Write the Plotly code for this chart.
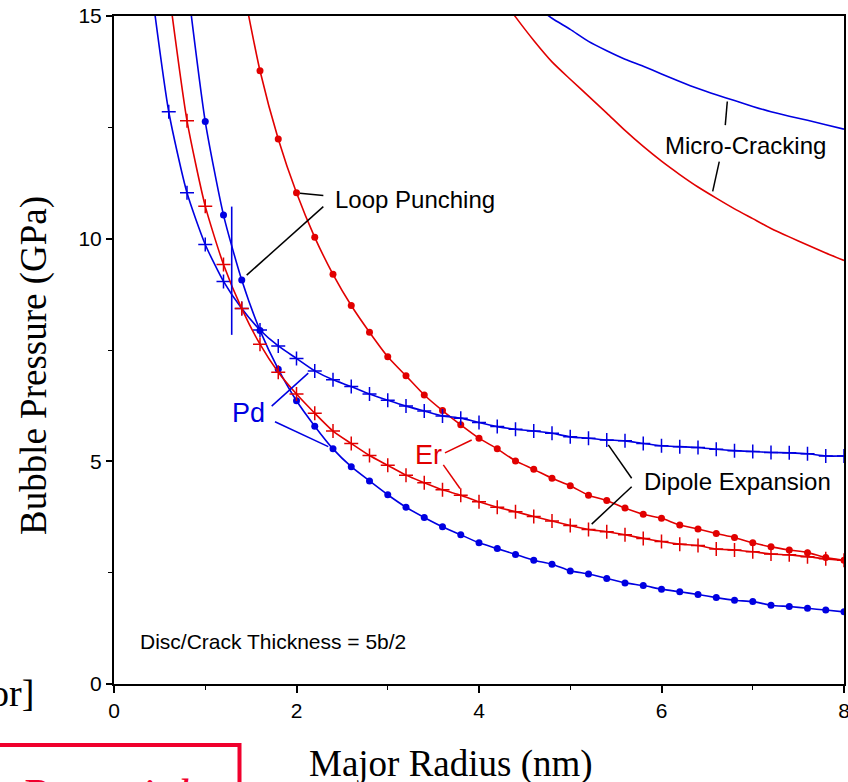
import plotly.graph_objects as go

# ---------------- data ----------------
pd_dipole_x = [0.4, 0.6, 0.8, 1.0, 1.2, 1.4, 1.6, 1.8, 2.0, 2.2, 2.4, 2.6, 2.8, 3.0, 3.2, 3.4, 3.6, 3.8, 4.0,
               4.2, 4.4, 4.6, 4.8, 5.0, 5.2, 5.4, 5.6, 5.8, 6.0, 6.2, 6.4, 6.6, 6.8, 7.0, 7.2, 7.4, 7.6, 7.8, 8.0]
pd_dipole_y = [15.8, 12.85, 11.03, 9.87, 9.04, 8.43, 7.95, 7.59, 7.31, 7.03, 6.83, 6.68, 6.51, 6.37, 6.24, 6.13,
               6.02, 5.97, 5.87, 5.78, 5.72, 5.68, 5.63, 5.55, 5.52, 5.48, 5.46, 5.40, 5.35, 5.33, 5.31, 5.27,
               5.24, 5.22, 5.20, 5.19, 5.17, 5.12, 5.12]

er_dipole_x = [0.6, 0.8, 1.0, 1.2, 1.4, 1.6, 1.8, 2.0, 2.2, 2.4, 2.6, 2.8, 3.0, 3.2, 3.4, 3.6, 3.8, 4.0,
               4.2, 4.4, 4.6, 4.8, 5.0, 5.2, 5.4, 5.6, 5.8, 6.0, 6.2, 6.4, 6.6, 6.8, 7.0, 7.2, 7.4, 7.6, 7.8, 8.0]
er_dipole_y = [15.6, 12.65, 10.73, 9.42, 8.43, 7.63, 7.00, 6.51, 6.08, 5.68, 5.40, 5.13, 4.91, 4.69, 4.52, 4.36,
               4.24, 4.09, 3.97, 3.87, 3.76, 3.66, 3.56, 3.47, 3.42, 3.35, 3.27, 3.20, 3.14, 3.11, 3.03, 3.01,
               2.97, 2.92, 2.90, 2.86, 2.81, 2.78]

pd_loop_x = [0.8, 1.0, 1.2, 1.4, 1.6, 1.8, 2.0, 2.2, 2.4, 2.6, 2.8, 3.0, 3.2, 3.4, 3.6, 3.8, 4.0,
             4.2, 4.4, 4.6, 4.8, 5.0, 5.2, 5.4, 5.6, 5.8, 6.0, 6.2, 6.4, 6.6, 6.8, 7.0, 7.2, 7.4, 7.6, 7.8, 8.0]
pd_loop_y = [15.8, 12.63, 10.53, 9.07, 7.94, 7.07, 6.36, 5.79, 5.28, 4.88, 4.56, 4.25, 3.97, 3.74, 3.53, 3.35,
             3.17, 3.04, 2.91, 2.78, 2.69, 2.54, 2.47, 2.37, 2.27, 2.21, 2.13, 2.07, 2.01, 1.94, 1.88, 1.85,
             1.77, 1.74, 1.70, 1.66, 1.62]

er_loop_x = [1.4, 1.6, 1.8, 2.0, 2.2, 2.4, 2.6, 2.8, 3.0, 3.2, 3.4, 3.6, 3.8, 4.0,
             4.2, 4.4, 4.6, 4.8, 5.0, 5.2, 5.4, 5.6, 5.8, 6.0, 6.2, 6.4, 6.6, 6.8, 7.0, 7.2, 7.4, 7.6, 7.8, 8.0]
er_loop_y = [15.8, 13.77, 12.24, 11.03, 10.03, 9.20, 8.50, 7.90, 7.35, 6.92, 6.49, 6.14, 5.82, 5.52, 5.28,
             5.01, 4.82, 4.62, 4.45, 4.24, 4.12, 3.95, 3.81, 3.72, 3.57, 3.48, 3.38, 3.29, 3.17, 3.08, 3.01,
             2.95, 2.84, 2.78]

pd_crack_x = [4.6, 4.8, 5.0, 5.2, 5.4, 5.6, 5.8, 6.0, 6.2, 6.4, 6.6, 6.8, 7.0, 7.2, 7.4, 7.6, 7.8, 8.0]
pd_crack_y = [15.25, 14.95, 14.70, 14.43, 14.22, 14.03, 13.87, 13.70, 13.53, 13.37, 13.23, 13.10, 12.97,
              12.85, 12.75, 12.66, 12.56, 12.46]

er_crack_x = [4.2, 4.4, 4.6, 4.8, 5.0, 5.2, 5.4, 5.6, 5.8, 6.0, 6.2, 6.4, 6.6, 6.8, 7.0, 7.2, 7.4, 7.6, 7.8, 8.0]
er_crack_y = [15.55, 14.98, 14.45, 13.97, 13.58, 13.20, 12.82, 12.43, 12.07, 11.74, 11.44, 11.16, 10.91,
              10.67, 10.45, 10.23, 10.04, 9.86, 9.68, 9.51]

pd_marker_x = [1.29, 1.29]
pd_marker_y = [7.84, 10.72]

x_ticks = [0, 2, 4, 6, 8]
y_ticks = [0, 5, 10, 15]

BLUE = "rgb(0,0,225)"
RED = "rgb(225,0,0)"

fig = go.Figure()

def add(x, y, color, symbol, size, mlw=0):
    fig.add_trace(go.Scatter(
        x=x, y=y, mode="lines+markers" if symbol else "lines",
        line=dict(color=color, width=1.6, shape="spline", smoothing=0.6),
        marker=dict(symbol=symbol or "circle", size=size, color=color,
                    line=dict(color=color, width=mlw)),
        showlegend=False, hoverinfo="skip"))

add(pd_crack_x, pd_crack_y, BLUE, None, 0)
add(er_crack_x, er_crack_y, RED, None, 0)
add(er_loop_x, er_loop_y, RED, "circle", 7)
add(pd_loop_x, pd_loop_y, BLUE, "circle", 7)
add(pd_dipole_x, pd_dipole_y, BLUE, "cross-thin", 10, 1.5)
add(er_dipole_x, er_dipole_y, RED, "cross-thin", 10, 1.5)
fig.add_trace(go.Scatter(x=pd_marker_x, y=pd_marker_y, mode="lines",
                         line=dict(color=BLUE, width=1.6), showlegend=False, hoverinfo="skip"))

# callout lines (data coords)
callouts = [
    ((2.038, 11.02), (2.294, 10.97), "black"),
    ((2.294, 10.72), (1.454, 9.18), "black"),
    ((1.728, 6.24), (2.129, 6.98), BLUE),
    ((1.764, 5.89), (2.348, 5.33), BLUE),
    ((3.627, 5.19), (3.92, 5.48), RED),
    ((3.609, 4.92), (3.792, 4.39), RED),
    ((5.417, 5.37), (5.673, 4.62), "black"),
    ((5.673, 4.43), (5.235, 3.59), "black"),
    ((6.721, 13.08), (6.699, 12.55), "black"),
    ((6.633, 11.73), (6.561, 11.06), "black"),
]
for (x0, y0), (x1, y1), c in callouts:
    fig.add_shape(type="line", xref="x", yref="y", x0=x0, y0=y0, x1=x1, y1=y1,
                  line=dict(color=c, width=1.5))

SANS = "Liberation Sans, Arial, sans-serif"
SERIF = "Liberation Serif, Times New Roman, serif"

def txt(x, y, s, size, color="black", xanchor="left", xref="x", yref="y", family=SANS, **kw):
    fig.add_annotation(x=x, y=y, xref=xref, yref=yref, text=s, showarrow=False,
                       xanchor=xanchor, yanchor="middle",
                       font=dict(family=family, size=size, color=color), **kw)

txt(2.40, 10.87, "Loop Punching", 24)
txt(6.02, 12.10, "Micro-Cracking", 24)
txt(5.783, 4.54, "Dipole Expansion", 24)
txt(0.263, 0.95, "Disc/Crack Thickness = 5b/2", 21)
txt(1.479, 6.09, "Pd", 27, BLUE, xanchor="center")
txt(3.444, 5.14, "Er", 27, RED, xanchor="center")

# axis titles
txt(-0.1096, 0.4775, "Bubble Pressure (GPa)", 37, xref="paper", yref="paper",
    family=SERIF, xanchor="center", textangle=-90)
txt(0.4616, -0.1198, "Major Radius (nm)", 37, xref="paper", yref="paper",
    family=SERIF, xanchor="center")

# slide fragments outside the chart
fig.add_annotation(x=(36 - 114) / 730, y=(684 - 693) / 668, xref="paper", yref="paper",
                   text="or]", showarrow=False, xanchor="right", yanchor="middle",
                   font=dict(family=SERIF, size=38, color="black"))
fig.add_shape(type="rect", xref="paper", yref="paper",
              x0=(-20 - 114) / 730, x1=(239.5 - 114) / 730,
              y0=(684 - 830) / 668, y1=(684 - 745) / 668,
              line=dict(color="rgb(240,0,45)", width=4))
fig.add_annotation(x=(18 - 114) / 730, y=(684 - 768) / 668, xref="paper", yref="paper",
                   text="<i>Potential</i>", showarrow=False, xanchor="left", yanchor="top",
                   font=dict(family=SERIF, size=46, color="rgb(240,0,45)"))

fig.update_layout(
    width=848, height=782,
    margin=dict(l=114, r=4, t=16, b=98, autoexpand=False),
    paper_bgcolor="white", plot_bgcolor="white",
    showlegend=False,
)
fig.update_xaxes(range=[0, 8], tickvals=x_ticks, ticks="outside", ticklen=7, tickwidth=1.5,
                 tickcolor="black", showline=True, linecolor="black", linewidth=2, mirror=True,
                 showgrid=False, zeroline=False, automargin=False, ticklabeloverflow="allow",
                 tickfont=dict(family=SANS, size=21, color="black"),
                 minor=dict(dtick=1, ticks="outside", ticklen=4, tickwidth=1.2, tickcolor="black"))
fig.update_yaxes(range=[0, 15], tickvals=y_ticks, ticks="outside", ticklen=6, tickwidth=1.5,
                 tickcolor="black", showline=True, linecolor="black", linewidth=2, mirror=True,
                 showgrid=False, zeroline=False, automargin=False, ticklabeloverflow="allow",
                 tickfont=dict(family=SANS, size=21, color="black"),
                 minor=dict(dtick=2.5, ticks="outside", ticklen=4, tickwidth=1.2, tickcolor="black"))

fig.write_html("out.html")
